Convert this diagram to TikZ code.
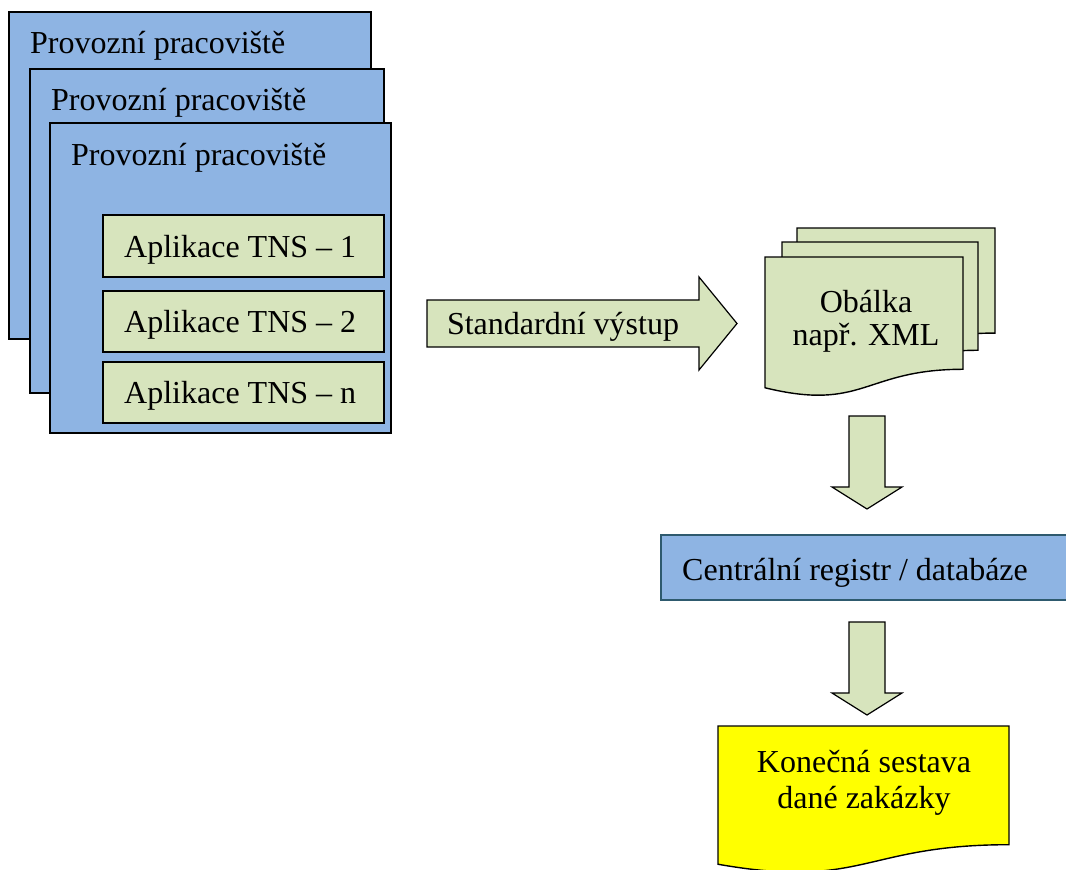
\documentclass[tikz,border=0pt]{standalone}
\usepackage{fontspec}
\setmainfont{Liberation Serif}
\definecolor{paleblue}{RGB}{142,180,227}
\definecolor{palegreen}{RGB}{215,228,189}
\definecolor{docyellow}{RGB}{255,255,0}
\definecolor{slateline}{RGB}{46,90,110}
\tikzset{
  bluebox/.style={draw=black, fill=paleblue, line width=1.6pt},
  greenbox/.style={draw=black, fill=palegreen, line width=1.4pt},
  blockarrow/.style={draw=black, fill=palegreen, line width=1.2pt, line join=miter},
  docline/.style={draw=black, line width=1.4pt},
  txt/.style={inner sep=0pt, font=\fontsize{32}{36}\selectfont},
}
% document shape with a wavy lower edge: x, y, width, height, fill colour
\newcommand{\docshape}[5]{%
  \filldraw[docline, fill=#5] (#1,#2) -- ({#1+#3},#2) -- ({#1+#3},{#2+0.802*#4})
    .. controls ({#1+0.5*#3},{#2+0.802*#4}) and ({#1+0.5*#3},{#2+1.107*#4})
    .. (#1,{#2+0.934*#4}) -- cycle;}
\begin{document}
\begin{tikzpicture}[x=1pt, y=-1pt]
\useasboundingbox (0,0) rectangle (1066,870);

% stacked workplaces
\draw[bluebox] (9,12) rectangle (371,339);
\node[txt, anchor=base west] (wpA) at (30,53) {Provozní pracoviště};
\draw[bluebox] (30,69) rectangle (384,393);
\node[txt, anchor=base west] (wpB) at (51,110) {Provozní pracoviště};
\draw[bluebox] (50,123) rectangle (391,433);
\node[txt, anchor=base west] (wpC) at (71,165) {Provozní pracoviště};

% applications
\draw[greenbox] (103,215) rectangle (384,277);
\node[txt, anchor=base west] (app1) at (124,257) {Aplikace TNS – 1};
\draw[greenbox] (103,291) rectangle (384,352);
\node[txt, anchor=base west] (app2) at (124,332) {Aplikace TNS – 2};
\draw[greenbox] (103,362) rectangle (384,423);
\node[txt, anchor=base west] (app3) at (124,403) {Aplikace TNS – n};

% standard output arrow
\draw[blockarrow] (427,300) -- (699,300) -- (699,277) -- (737,323.5) -- (699,370)
  -- (699,347) -- (427,347) -- cycle;
\node[txt, anchor=base] (out) at (563,334) {Standardní výstup};

% envelope documents
\docshape{797}{228}{198}{131}{palegreen}
\docshape{782}{242}{196}{135}{palegreen}
\docshape{765}{257}{198}{140}{palegreen}
\node[txt, anchor=base, align=center, font=\fontsize{32}{33}\selectfont] (env) at (866,345)
  {Obálka\\např. XML};

% arrow to the central register
\draw[blockarrow] (849,416) -- (885,416) -- (885,487) -- (902,487) -- (867,509)
  -- (832,487) -- (849,487) -- cycle;

% central register
\draw[draw=slateline, fill=paleblue, line width=1.6pt] (661,535) rectangle (1075,600);
\node[txt, anchor=base west] (reg) at (682,580) {Centrální registr / databáze};

% arrow to the final report
\draw[blockarrow] (849,622) -- (885,622) -- (885,693) -- (902,693) -- (867,715)
  -- (832,693) -- (849,693) -- cycle;

% final report
\docshape{718}{726}{291}{148}{docyellow}
\node[txt, anchor=base, align=center] (rep) at (864,808)
  {Konečná sestava\\dané zakázky};
\end{tikzpicture}
\end{document}
